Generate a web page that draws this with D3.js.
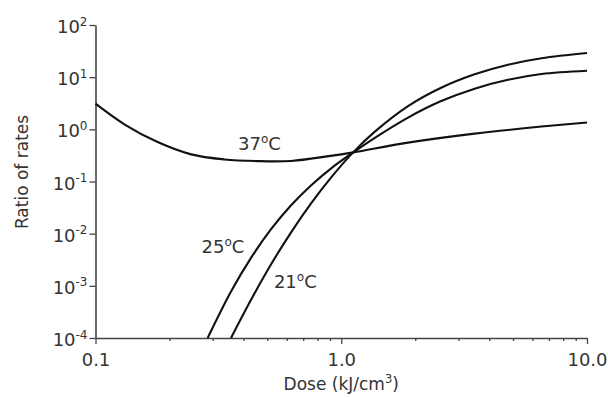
<!DOCTYPE html>
<html>
<head>
<meta charset="utf-8">
<script src="https://cdn.jsdelivr.net/npm/d3@7"></script>
<style>
  body { margin: 0; background: #fff; }
  svg text { font-family: "DejaVu Sans", Verdana, sans-serif; fill: #333; }
</style>
</head>
<body>
<svg id="chart" width="608" height="398"></svg>
<script>
// Data (dose in kJ/cm3, ratio of rates)
const dose37  = [0.1, 0.131, 0.179, 0.245, 0.334, 0.458, 0.626, 0.89, 1.12, 1.87, 3.49, 6.53, 10];
const ratio37 = [3.1, 1.25, 0.57, 0.331, 0.265, 0.246, 0.248, 0.307, 0.362, 0.556, 0.827, 1.13, 1.35];

const dose25  = [0.286, 0.356, 0.43, 0.519, 0.625, 0.755, 0.91, 1.12, 1.37, 1.87, 2.55, 3.49, 4.77, 6.53, 10];
const ratio25 = [1e-4, 7.8e-4, 3.48e-3, 0.0123, 0.035, 0.0849, 0.179, 0.362, 0.687, 1.68, 3.48, 6.03, 8.91, 11.5, 13.3];

const dose21  = [0.356, 0.43, 0.519, 0.625, 0.755, 0.91, 1.12, 1.37, 1.87, 2.55, 3.49, 4.77, 6.53, 10];
const ratio21 = [1e-4, 5.46e-4, 2.62e-3, 0.0106, 0.0384, 0.12, 0.366, 0.904, 2.79, 6.27, 11.35, 17.3, 23.0, 29.0];

const yTickExps = [2, 1, 0, -1, -2, -3, -4];
const xMajor = [0.1, 1, 10];
const xMajorLabels = ['0.1', '1.0', '10.0'];

const series = [
  { name: '37', dose: dose37, ratio: ratio37, label: [0.38, 150] },
  { name: '25', dose: dose25, ratio: ratio25, label: [0.27, 253] },
  { name: '21', dose: dose21, ratio: ratio21, label: [0.532, 288] }
];

const svg = d3.select('#chart');
const margin = { left: 95.5, right: 21, top: 25, bottom: 60 };
const W = 608, H = 398;

const x = d3.scaleLog().domain([0.1, 10]).range([margin.left, W - margin.right]);
const y = d3.scaleLog().domain([1e-4, 1e2]).range([H - margin.bottom, margin.top]);

const axisColor = '#444';

// x axis: minor ticks
const xMinor = x.ticks().filter(v => !xMajor.some(m => Math.abs(m - v) < 1e-9));
const gxMinor = svg.append('g')
  .attr('transform', `translate(0,${y.range()[0]})`)
  .call(d3.axisBottom(x).tickValues(xMinor).tickSize(3).tickSizeOuter(0).tickFormat(''));
gxMinor.select('.domain').remove();
gxMinor.selectAll('line').attr('stroke', axisColor).attr('stroke-width', 1.3);

// x axis: major ticks + labels
const gx = svg.append('g')
  .attr('transform', `translate(0,${y.range()[0]})`)
  .call(d3.axisBottom(x).tickValues(xMajor).tickSize(6).tickSizeOuter(0)
    .tickFormat((d, i) => xMajorLabels[i]));
gx.select('.domain').attr('stroke', axisColor).attr('stroke-width', 1.6);
gx.selectAll('line').attr('stroke', axisColor).attr('stroke-width', 1.3);
gx.selectAll('text').attr('font-size', 18).attr('dy', null).attr('y', 28)
  .style('font-family', '"DejaVu Sans", Verdana, sans-serif').attr('fill', '#333');

// y axis
const gy = svg.append('g')
  .attr('transform', `translate(${x.range()[0]},0)`)
  .call(d3.axisLeft(y).tickValues(yTickExps.map(e => Math.pow(10, e))).tickSize(6).tickSizeOuter(0).tickFormat(''));
gy.select('.domain').attr('stroke', axisColor).attr('stroke-width', 1.6);
gy.selectAll('line').attr('stroke', axisColor).attr('stroke-width', 1.3);
gy.selectAll('.tick').each(function(d) {
  const e = Math.round(Math.log10(d));
  const t = d3.select(this).append('text')
    .attr('x', -8).attr('y', 7.5)
    .attr('text-anchor', 'end')
    .attr('font-size', 18)
    .attr('fill', '#333');
  t.append('tspan').text('10');
  t.append('tspan').attr('font-size', 12).attr('dy', -7.5).text(String(e));
});

// axis titles
const xt = svg.append('text')
  .attr('x', (x.range()[0] + x.range()[1]) / 2)
  .attr('y', 390)
  .attr('text-anchor', 'middle')
  .attr('font-size', 17);
xt.append('tspan').text('Dose (kJ/cm');
xt.append('tspan').attr('font-size', 11.5).attr('dy', -7).text('3');
xt.append('tspan').attr('dy', 7).text(')');

svg.append('text')
  .attr('transform', 'translate(28,172) rotate(-90)')
  .attr('text-anchor', 'middle')
  .attr('font-size', 17)
  .text('Ratio of rates');

// curves
const line = d3.line()
  .x(d => x(d[0]))
  .y(d => y(d[1]))
  .curve(d3.curveCatmullRom.alpha(0.5));

series.forEach(s => {
  const pts = s.dose.map((d, i) => [d, s.ratio[i]]);
  svg.append('path')
    .datum(pts)
    .attr('fill', 'none')
    .attr('stroke', '#111')
    .attr('stroke-width', 2.1)
    .attr('d', line);

  const lab = svg.append('text')
    .attr('x', x(s.label[0]))
    .attr('y', s.label[1])
    .attr('font-size', 18);
  lab.append('tspan').text(s.name);
  lab.append('tspan').attr('font-size', 12).attr('dy', -7).text('o');
  lab.append('tspan').attr('dy', 7).text('C');
});
</script>
</body>
</html>
